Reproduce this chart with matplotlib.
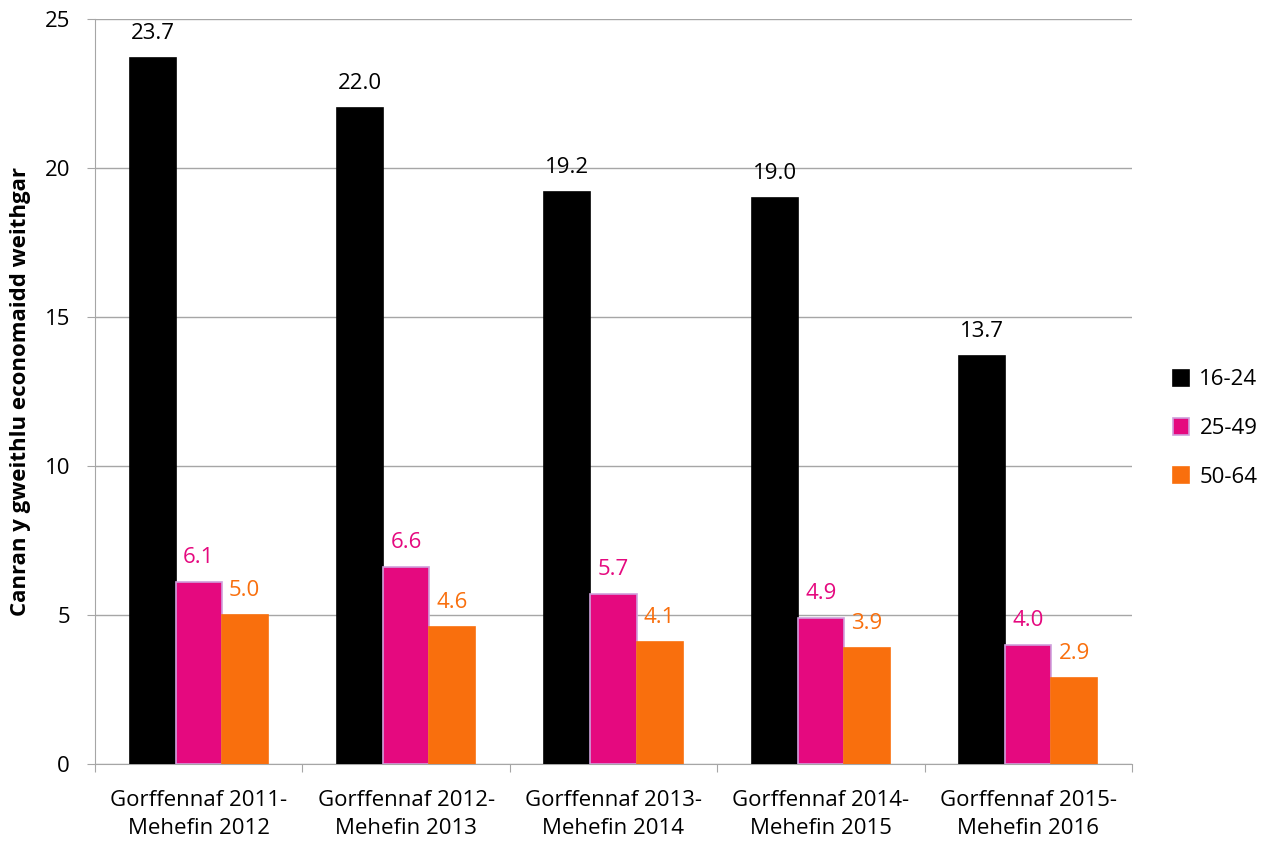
import matplotlib
matplotlib.use("Agg")
import matplotlib.pyplot as plt
import numpy as np

categories = ["Gorffennaf 2011-\nMehefin 2012", "Gorffennaf 2012-\nMehefin 2013",
              "Gorffennaf 2013-\nMehefin 2014", "Gorffennaf 2014-\nMehefin 2015",
              "Gorffennaf 2015-\nMehefin 2016"]
series_names = ["16-24", "25-49", "50-64"]
s_16_24 = [23.7, 22.0, 19.2, 19.0, 13.7]
s_25_49 = [6.1, 6.6, 5.7, 4.9, 4.0]
s_50_64 = [5.0, 4.6, 4.1, 3.9, 2.9]
y_label = "Canran y gweithlu economaidd weithgar"

colors = ["#000000", "#E5097F", "#F96F0D"]
edges = ["#000000", "#CFA0DC", "#F96F0D"]

plt.rcParams['font.family'] = ['Open Sans', 'DejaVu Sans']
fig = plt.figure(figsize=(12.72, 8.41), dpi=100)
ax = fig.add_axes([95/1272, 1-764/841, (1132-95)/1272, (764-19)/841])

x = np.arange(len(categories))
w = 0.222
for i, (vals, c, e, name) in enumerate(zip([s_16_24, s_25_49, s_50_64], colors, edges, series_names)):
    off = (i - 1) * w
    ax.bar(x + off, vals, width=w, color=c, edgecolor=e, linewidth=1.2, label=name, zorder=3)
    for xi, v in zip(x + off, vals):
        ax.text(xi, v + 0.64, f"{v:.1f}", ha="center", va="baseline", fontsize=16, color=c)

ax.set_xlim(-0.5, len(categories) - 0.5)
ax.set_ylim(0, 25)
ax.set_yticks([0, 5, 10, 15, 20, 25])
ax.yaxis.grid(True, color="#A6A6A6", linewidth=1, zorder=0)
ax.set_xticks(np.arange(-0.5, len(categories)), minor=False)
ax.set_xticklabels([])
ax.set_xticks(x, minor=True)
ax.set_xticklabels(categories, minor=True, fontsize=16, linespacing=1.4)
ax.tick_params(axis='x', which='minor', length=0, pad=19)
ax.tick_params(axis='x', which='major', length=6, color="#A6A6A6")
ax.tick_params(axis='y', length=6, color="#A6A6A6", labelsize=16, pad=12)
for s in ["top", "right"]:
    ax.spines[s].set_visible(False)
for s in ["left", "bottom"]:
    ax.spines[s].set_color("#A6A6A6")
ax.set_ylabel(y_label, fontsize=16, fontweight="bold", labelpad=10)

ax.legend(loc="center left", bbox_to_anchor=(1.02, 0.45), frameon=False, fontsize=16,
          handlelength=0.75, handleheight=0.75, labelspacing=1.25, handletextpad=0.45)

fig.savefig("out.png", dpi=100)
